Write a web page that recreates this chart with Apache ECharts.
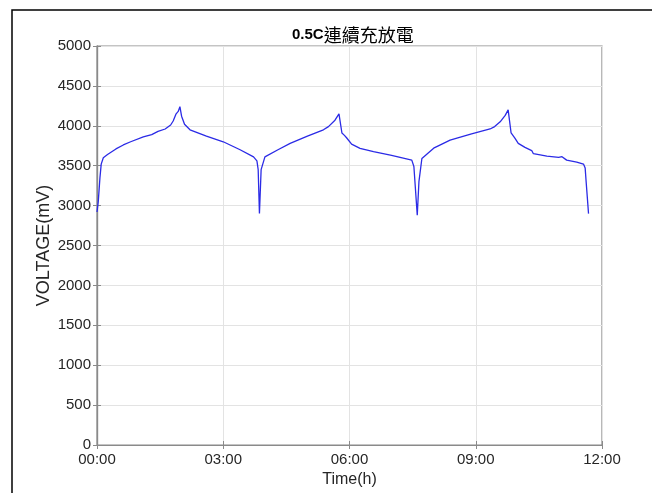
<!DOCTYPE html>
<html>
<head>
<meta charset="utf-8">
<script src="https://cdn.jsdelivr.net/npm/echarts@6/dist/echarts.min.js"></script>
<style>html,body{margin:0;padding:0;background:#fff;}#c{width:652px;height:493px;}</style>
</head>
<body>
<div id="c"></div>
<script>
// Time in hours since start
const timeHours = [0.00,0.03,0.07,0.10,0.15,0.25,0.45,0.625,0.80,1.10,1.30,1.45,1.62,1.75,1.81,1.88,1.93,1.97,2.01,2.08,2.21,2.60,3.00,3.40,3.72,3.80,3.83,3.86,3.90,3.99,4.30,4.59,5.00,5.38,5.50,5.655,5.75,5.82,5.88,5.93,6.05,6.25,6.57,7.00,7.48,7.53,7.61,7.65,7.72,8.00,8.39,8.90,9.34,9.45,9.58,9.70,9.77,9.84,9.93,10.01,10.17,10.33,10.37,10.69,10.97,11.05,11.16,11.40,11.56,11.60,11.62,11.68];
// Voltage in mV
const voltageMv = [2920,3050,3350,3520,3600,3640,3710,3760,3800,3860,3890,3930,3960,4010,4060,4150,4180,4240,4120,4020,3950,3870,3800,3700,3610,3560,3450,2900,3450,3610,3700,3780,3870,3950,3990,4070,4150,3910,3880,3850,3770,3718,3675,3630,3570,3490,2880,3300,3590,3720,3820,3900,3960,3990,4050,4130,4200,3910,3845,3780,3730,3690,3650,3620,3605,3613,3570,3545,3520,3470,3320,2900];
const xTicks = [0,3,6,9,12];
const yTicks = [0,500,1000,1500,2000,2500,3000,3500,4000,4500,5000];

const seriesData = timeHours.map((t,i)=>[t, voltageMv[i]]);
const chart = echarts.init(document.getElementById('c'), null, {renderer:'canvas'});
const fmtTime = v => (v<10?'0':'')+v+':00';
const axisCol = '#8a8a8a';
chart.setOption({
  animation:false,
  backgroundColor:'#fff',
  title:{
    text:'{a|0.5C}{b|連續充放電}',
    left:287, top:21,
    textStyle:{rich:{
      a:{fontFamily:'Liberation Sans, Arial',fontWeight:'bold',fontSize:15,color:'#000'},
      b:{fontFamily:'Noto Sans CJK TC',fontWeight:'normal',fontSize:18,color:'#000'}
    }}
  },
  graphic:[{type:'rect',shape:{x:12,y:10,width:700,height:600},style:{fill:'none',stroke:'#000',lineWidth:1.5},silent:true,z:-1}],
  grid:{left:97,right:50,top:46,bottom:48,show:true,borderColor:axisCol,borderWidth:1.2},
  xAxis:[{
    type:'value',min:0,max:12,interval:3,
    name:'Time(h)',nameLocation:'middle',nameGap:27,nameMoveOverlap:false,
    nameTextStyle:{fontFamily:'Liberation Sans, Arial',fontSize:16,color:'#262626'},
    axisLine:{show:true,lineStyle:{color:axisCol,width:1.2}},
    axisTick:{show:true,inside:true,length:4,lineStyle:{color:axisCol}},
    axisLabel:{formatter:fmtTime,fontFamily:'Liberation Sans, Arial',fontSize:15,color:'#262626',margin:7},
    splitLine:{show:true,lineStyle:{color:'#e3e3e3',width:1}}
  },{
    type:'value',min:0,max:12,interval:3,position:'top',
    axisLine:{show:true,lineStyle:{color:axisCol,width:1.2}},
    axisTick:{show:true,inside:true,length:4,lineStyle:{color:axisCol}},
    axisLabel:{show:false},splitLine:{show:false}
  }],
  yAxis:[{
    type:'value',min:0,max:5000,interval:500,
    name:'VOLTAGE(mV)',nameLocation:'middle',nameGap:44,nameMoveOverlap:false,
    nameTextStyle:{fontFamily:'Liberation Sans, Arial',fontSize:18,color:'#262626'},
    axisLine:{show:true,lineStyle:{color:axisCol,width:1.2}},
    axisTick:{show:true,inside:true,length:4,lineStyle:{color:axisCol}},
    axisLabel:{formatter:v=>String(v),fontFamily:'Liberation Sans, Arial',fontSize:15,color:'#262626',margin:6},
    splitLine:{show:true,lineStyle:{color:'#e3e3e3',width:1}}
  },{
    type:'value',min:0,max:5000,interval:500,position:'right',
    axisLine:{show:true,lineStyle:{color:axisCol,width:1.2}},
    axisTick:{show:true,inside:true,length:4,lineStyle:{color:axisCol}},
    axisLabel:{show:false},splitLine:{show:false}
  }],
  series:[{
    type:'line',data:seriesData,showSymbol:false,symbol:'none',
    lineStyle:{color:'#2b2be6',width:1.3},
    xAxisIndex:0,yAxisIndex:0
  }]
});
</script>
</body>
</html>
